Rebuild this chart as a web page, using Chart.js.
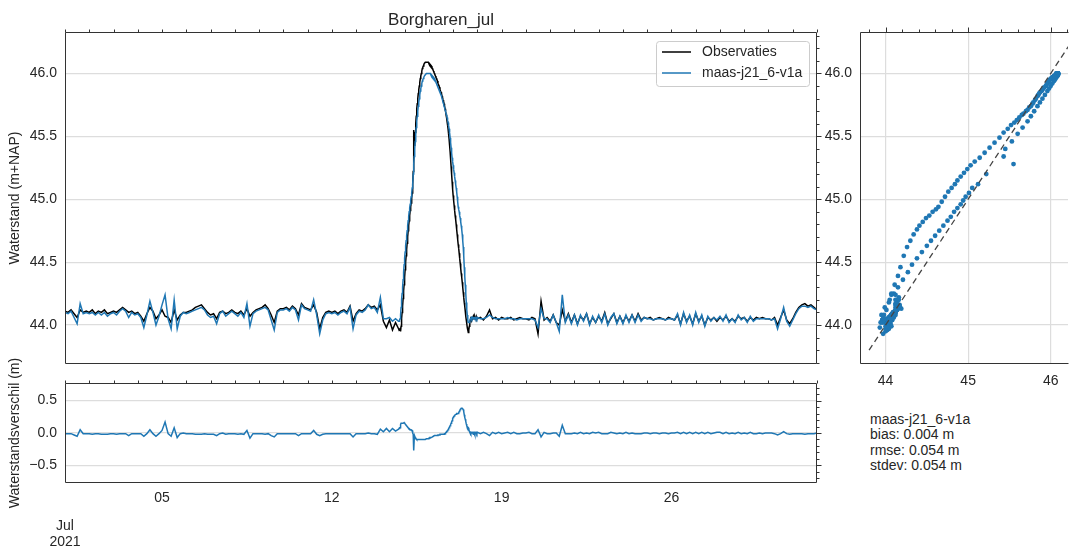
<!DOCTYPE html>
<html>
<head>
<meta charset="utf-8">
<script src="https://cdn.jsdelivr.net/npm/chart.js@4.4.1/dist/chart.umd.min.js"></script>
<style>
  html, body { margin: 0; padding: 0; background: #fff; overflow: hidden; }
  #wrap { position: relative; width: 1072px; height: 546px; overflow: hidden; }
  canvas { position: absolute; }
  #stats { position: absolute; left: 870px; top: 412px; font: 14px "Liberation Sans", Arial, sans-serif;
           color: #262626; line-height: 15.4px; white-space: pre; }
</style>
</head>
<body>
<div id="wrap">
  <canvas id="cMain" width="830" height="370" style="left:0;top:0"></canvas>
  <canvas id="cVerschil" width="830" height="216" style="left:0;top:330px"></canvas>
  <canvas id="cScatter" width="252" height="400" style="left:820px;top:0"></canvas>
  <div id="stats"></div>
</div>
<script>
var titel = 'Borgharen_jul';
var reeksNamen = ['Observaties', 'maas-j21_6-v1a'];
var statRegels = ['maas-j21_6-v1a', 'bias: 0.004 m', 'rmse: 0.054 m', 'stdev: 0.054 m'];
var dagTicks = [4, 11, 18, 25];          // dagen na 1 jul 00:00
var dagLabels = ['05', '12', '19', '26'];
var hoogteTicks = [44.0, 44.5, 45.0, 45.5, 46.0];
var verschilTicks = [-0.5, 0.0, 0.5];
var scatterTicks = [44, 45, 46];
var lijn11 = [43.8, 46.4];

// 1 jul 00:00 t/m 14 jul 15:00, elke 3 uur
var obsVoor = [
  44.11, 44.10, 44.12, 44.09, 44.06, 44.12, 44.10, 44.11,
  44.10, 44.12, 44.09, 44.11, 44.10, 44.12, 44.09, 44.10,
  44.11, 44.10, 44.12, 44.14, 44.12, 44.10, 44.11, 44.09,
  44.10, 44.07, 44.03, 44.09, 44.14, 44.11, 44.05, 44.08,
  44.12, 44.07, 44.06, 44.02, 44.12, 44.04, 44.08, 44.10,
  44.10, 44.11, 44.12, 44.14, 44.15, 44.16, 44.13, 44.10,
  44.08, 44.09, 44.05, 44.10, 44.11, 44.09, 44.10, 44.12,
  44.10, 44.09, 44.11, 44.08, 44.13, 44.07, 44.10, 44.12,
  44.13, 44.14, 44.16, 44.13, 44.08, 44.02, 44.11, 44.13,
  44.13, 44.14, 44.12, 44.15, 44.13, 44.08, 44.17, 44.14,
  44.13, 44.12, 44.16, 44.10, 43.97, 44.06, 44.10, 44.11,
  44.10, 44.11, 44.09, 44.11, 44.12, 44.10, 44.15, 44.03,
  44.09, 44.12, 44.11, 44.13, 44.16, 44.14, 44.15, 44.12,
  44.16, 44.03, 43.98, 44.04, 43.96, 44.02
];
var simVoor = [
  44.10, 44.09, 44.11, 44.06, 44.01, 44.17, 44.09, 44.10,
  44.09, 44.10, 44.08, 44.10, 44.08, 44.10, 44.07, 44.09,
  44.10, 44.08, 44.11, 44.13, 44.11, 44.06, 44.10, 44.08,
  44.09, 44.06, 43.98, 44.08, 44.19, 44.10, 44.00, 44.07,
  44.16, 44.24, 44.05, 43.97, 44.20, 43.97, 44.07, 44.10,
  44.09, 44.10, 44.11, 44.12, 44.13, 44.14, 44.12, 44.08,
  44.06, 44.07, 44.01, 44.09, 44.11, 44.07, 44.09, 44.11,
  44.09, 44.07, 44.10, 44.06, 44.17, 43.99, 44.09, 44.11,
  44.12, 44.13, 44.14, 44.12, 44.04, 43.96, 44.10, 44.12,
  44.12, 44.13, 44.11, 44.14, 44.12, 44.04, 44.16, 44.13,
  44.12, 44.11, 44.20, 44.08, 43.93, 44.04, 44.09, 44.10,
  44.09, 44.10, 44.08, 44.10, 44.11, 44.09, 44.14, 43.97,
  44.08, 44.11, 44.10, 44.12, 44.16, 44.13, 44.14, 44.10,
  44.22, 44.05, 44.05, 44.06, 44.03, 44.05
];
// 14 jul 18:00 t/m 17 jul 23:30, elk half uur (hoogwater)
var obsPiek = [
  43.97, 43.96, 43.96, 43.97, 43.95, 43.99, 44.05, 44.10, 44.15, 44.21, 44.27, 44.32,
  44.38, 44.44, 44.50, 44.55, 44.60, 44.65, 44.70, 44.75, 44.79, 44.83, 44.87, 44.91,
  44.94, 44.97, 45.01, 45.05, 45.12, 45.22, 45.55, 45.43, 45.45, 45.53, 45.60, 45.66,
  45.72, 45.76, 45.80, 45.84, 45.87, 45.90, 45.93, 45.96, 45.98, 46.00, 46.02, 46.04,
  46.05, 46.06, 46.07, 46.08, 46.08, 46.09, 46.09, 46.09, 46.09, 46.09, 46.09, 46.09,
  46.08, 46.08, 46.07, 46.07, 46.06, 46.06, 46.05, 46.04, 46.03, 46.02, 46.01, 46.00,
  45.99, 45.98, 45.97, 45.96, 45.95, 45.94, 45.92, 45.91, 45.90, 45.89, 45.87, 45.86,
  45.85, 45.84, 45.82, 45.81, 45.79, 45.78, 45.76, 45.74, 45.72, 45.70, 45.67, 45.65,
  45.62, 45.59, 45.56, 45.52, 45.48, 45.43, 45.38, 45.32, 45.26, 45.20, 45.14, 45.08,
  45.03, 44.99, 44.95, 44.91, 44.87, 44.84, 44.80, 44.76, 44.72, 44.68, 44.64, 44.61,
  44.57, 44.53, 44.49, 44.45, 44.41, 44.38, 44.34, 44.30, 44.26, 44.22, 44.18, 44.15,
  44.11, 44.07, 44.04, 44.01, 43.98, 43.96, 43.94, 43.96, 43.99, 44.02, 44.04, 44.06,
  44.06, 44.04, 44.05, 44.06, 44.07, 44.05, 44.05, 44.07, 44.06, 44.05, 44.05, 44.06
];
var simPiek = [
  44.03, 44.03, 44.04, 44.05, 44.08, 44.14, 44.20, 44.25, 44.30, 44.36, 44.42, 44.48,
  44.53, 44.58, 44.63, 44.67, 44.71, 44.75, 44.79, 44.83, 44.86, 44.90, 44.93, 44.96,
  44.99, 45.02, 45.05, 45.09, 45.12, 45.20, 45.28, 45.34, 45.40, 45.46, 45.52, 45.57,
  45.62, 45.66, 45.70, 45.74, 45.77, 45.80, 45.83, 45.86, 45.88, 45.90, 45.92, 45.94,
  45.95, 45.96, 45.97, 45.98, 45.98, 45.99, 45.99, 46.00, 46.00, 46.00, 46.00, 46.00,
  46.00, 46.00, 46.00, 46.00, 45.99, 45.99, 45.98, 45.98, 45.97, 45.97, 45.96, 45.96,
  45.95, 45.94, 45.93, 45.92, 45.91, 45.90, 45.89, 45.88, 45.87, 45.86, 45.85, 45.84,
  45.83, 45.82, 45.80, 45.79, 45.77, 45.76, 45.74, 45.73, 45.71, 45.70, 45.68, 45.67,
  45.65, 45.63, 45.61, 45.59, 45.56, 45.53, 45.49, 45.45, 45.41, 45.37, 45.33, 45.30,
  45.27, 45.24, 45.21, 45.18, 45.15, 45.12, 45.09, 45.06, 45.02, 44.98, 44.94, 44.92,
  44.90, 44.87, 44.85, 44.82, 44.79, 44.76, 44.72, 44.67, 44.62, 44.55, 44.46, 44.39,
  44.32, 44.25, 44.18, 44.12, 44.08, 44.04, 44.02, 44.02, 44.02, 44.03, 44.05, 44.05,
  44.06, 44.05, 44.06, 44.06, 44.05, 44.06, 44.06, 44.05, 44.05, 44.06, 44.06, 44.05
];
// 18 jul 00:00 t/m 1 aug 00:00, elke 3 uur
var obsNa = [
  44.05, 44.06, 44.04, 44.07, 44.12, 44.05, 44.06, 44.04,
  44.06, 44.05, 44.05, 44.06, 44.04, 44.05, 44.06, 44.05,
  44.05, 44.04, 44.06, 44.05, 43.93, 44.19, 44.04, 44.06,
  44.03, 44.08, 44.02, 44.00, 44.12, 44.03, 44.09, 44.02,
  44.08, 44.01, 44.07, 44.04, 44.09, 44.01, 44.06, 44.02,
  44.07, 44.03, 44.10, 44.01, 44.05, 44.09, 44.02, 44.07,
  44.02, 44.07, 44.03, 44.08, 44.03, 44.09, 44.04, 44.06,
  44.05, 44.06, 44.04, 44.05, 44.06, 44.05, 44.04, 44.06,
  44.05, 44.04, 44.08, 44.01, 44.09, 44.03, 44.07, 44.01,
  44.09, 44.03, 44.07, 44.00, 44.06, 44.04, 44.06, 44.03,
  44.06, 44.04, 44.07, 44.03, 44.05, 44.03, 44.07, 44.05,
  44.06, 44.03, 44.06, 44.04, 44.06, 44.05, 44.06, 44.05,
  44.05, 44.04, 44.06, 44.00, 44.06, 44.12, 44.04, 44.01,
  44.05, 44.10, 44.14, 44.16, 44.17, 44.15, 44.16, 44.14,
  44.12
];
var simNa = [
  44.06, 44.05, 44.05, 44.06, 44.08, 44.06, 44.05, 44.05,
  44.05, 44.05, 44.06, 44.05, 44.05, 44.04, 44.05, 44.05,
  44.05, 44.05, 44.05, 44.04, 43.98, 44.13, 44.05, 44.05,
  44.02, 44.08, 44.02, 43.95, 44.24, 44.02, 44.08, 44.01,
  44.08, 44.00, 44.08, 44.03, 44.09, 44.00, 44.07, 44.02,
  44.08, 44.02, 44.09, 44.00, 44.06, 44.09, 44.01, 44.07,
  44.01, 44.08, 44.02, 44.08, 44.02, 44.08, 44.03, 44.06,
  44.05, 44.05, 44.04, 44.05, 44.05, 44.05, 44.04, 44.05,
  44.05, 44.04, 44.09, 44.00, 44.10, 44.02, 44.08, 44.00,
  44.10, 44.02, 44.08, 43.99, 44.07, 44.03, 44.06, 44.04,
  44.07, 44.03, 44.08, 44.02, 44.05, 44.02, 44.08, 44.04,
  44.06, 44.02, 44.07, 44.03, 44.05, 44.05, 44.05, 44.05,
  44.05, 44.04, 44.05, 43.97, 44.05, 44.14, 44.03, 43.99,
  44.04, 44.09, 44.13, 44.15, 44.15, 44.14, 44.15, 44.13,
  44.12
];

// tijdas in dagen na 1 jul
var tijd = [], obs = [], sim = [];
obsVoor.forEach(function(v, i){ tijd.push(i * 3 / 24); obs.push(v); sim.push(simVoor[i]); });
obsPiek.forEach(function(v, i){ tijd.push((330 + i / 2) / 24); obs.push(v); sim.push(simPiek[i]); });
obsNa.forEach(function(v, i){ tijd.push((408 + i * 3) / 24); obs.push(v); sim.push(simNa[i]); });
var verschil = sim.map(function(v, i){ return +(v - obs[i]).toFixed(3); });

var FONT = '"Liberation Sans", Arial, sans-serif';
var TEKST = '#262626';
var GRID = '#dddddd';
var BLAUW = '#1f77b4';

document.getElementById('stats').textContent = statRegels.join('\n');

function reeks(van, tot, stap){
    var r = [];
    for (var v = van; v <= tot + 1e-9; v += stap) r.push(+v.toFixed(3));
    return r;
}
var dagen = reeks(0, 31, 1);

// matplotlib-achtige kaders met ticks naar buiten
var kader = {
    id: 'kader',
    afterDraw: function(chart, args, opts){
        var ctx = chart.ctx, a = chart.chartArea;
        var sx = chart.scales.x, sy = chart.scales.y;
        ctx.save();
        ctx.strokeStyle = '#333333';
        ctx.lineWidth = 1;
        ctx.beginPath();
        var L = Math.round(a.left) + 0.5, R = Math.round(a.right) - 0.5;
        var T = Math.round(a.top) + 0.5, B = Math.round(a.bottom) - 0.5;
        var extra = opts.geenRechts ? 1 : 0;
        ctx.moveTo(L, B); ctx.lineTo(L, T); ctx.lineTo(R + extra, T);
        if (!opts.geenRechts) { ctx.lineTo(R, B); }
        ctx.moveTo(L, B); ctx.lineTo(R + extra, B);
        (opts.bovenMinor || []).forEach(function(v){
            var x = Math.round(sx.getPixelForValue(v)) + 0.5;
            if (x < a.left - 1 || x > a.right + 1) return;
            ctx.moveTo(x, T); ctx.lineTo(x, T - 3);
        });
        (opts.bovenMajor || []).forEach(function(v){
            var x = Math.round(sx.getPixelForValue(v)) + 0.5;
            ctx.moveTo(x, T); ctx.lineTo(x, T - 5);
        });
        (opts.rechtsMinor || []).forEach(function(v){
            var y = Math.round(sy.getPixelForValue(v)) + 0.5;
            if (y < a.top || y > a.bottom) return;
            ctx.moveTo(R, y); ctx.lineTo(R + 3, y);
        });
        (opts.rechtsMajor || []).forEach(function(v){
            var y = Math.round(sy.getPixelForValue(v)) + 0.5;
            ctx.moveTo(R, y); ctx.lineTo(R + 5, y);
        });
        ctx.stroke();
        ctx.restore();
    }
};

// teksten: titel, astitels, legenda, maand-label
var teksten = {
    id: 'teksten',
    afterDraw: function(chart, args, opts){
        var ctx = chart.ctx, a = chart.chartArea;
        ctx.save();
        ctx.fillStyle = TEKST;
        ctx.textBaseline = 'middle';
        if (opts.titel) {
            ctx.font = '17px ' + FONT;
            ctx.textAlign = 'center';
            ctx.fillText(opts.titel, (a.left + a.right) / 2, 20);
        }
        if (opts.yTitel) {
            ctx.save();
            ctx.font = '14px ' + FONT;
            ctx.textAlign = 'center';
            ctx.translate(15, (a.top + a.bottom) / 2);
            ctx.rotate(-Math.PI / 2);
            ctx.fillText(opts.yTitel, 0, 0);
            ctx.restore();
        }
        if (opts.maand) {
            ctx.font = '14px ' + FONT;
            ctx.textAlign = 'center';
            var x0 = chart.scales.x.getPixelForValue(0);
            ctx.fillText(opts.maand[0], x0, a.bottom + 43);
            ctx.fillText(opts.maand[1], x0, a.bottom + 59);
        }
        if (opts.legenda) {
            var bx = 656, by = 41, bw = 153, bh = 45;
            ctx.fillStyle = 'rgba(255,255,255,0.85)';
            ctx.strokeStyle = '#cccccc';
            ctx.lineWidth = 1;
            ctx.beginPath();
            ctx.roundRect(bx + 0.5, by + 0.5, bw, bh, 3);
            ctx.fill(); ctx.stroke();
            ctx.font = '14px ' + FONT;
            ctx.textAlign = 'left';
            chart.data.datasets.forEach(function(ds, i){
                var y = by + 11 + i * 21;
                ctx.strokeStyle = ds.borderColor;
                ctx.lineWidth = 1.5;
                ctx.beginPath(); ctx.moveTo(662, y); ctx.lineTo(691, y); ctx.stroke();
                ctx.fillStyle = TEKST;
                ctx.fillText(ds.label, 702, y);
            });
        }
        ctx.restore();
    }
};

function vasteTicks(lijst){
    return function(scale){ scale.ticks = lijst.map(function(v){ return { value: v }; }); };
}
function yBreedte(w){
    return function(s){ s.width = w; s.paddingTop = 0; s.paddingBottom = 0; };
}
function xHoogte(h){
    return function(s){ s.height = h; s.paddingLeft = 0; s.paddingRight = 0; };
}
var tickFont = { family: FONT, size: 14 };

Chart.defaults.font.family = FONT;
Chart.defaults.color = TEKST;

// hoofdgrafiek
new Chart(document.getElementById('cMain'), {
    type: 'line',
    data: {
        datasets: [
            { label: reeksNamen[0], data: tijd.map(function(t, i){ return { x: t, y: obs[i] }; }),
              borderColor: '#000000', borderWidth: 1.5, pointRadius: 0, order: 2 },
            { label: reeksNamen[1], data: tijd.map(function(t, i){ return { x: t, y: sim[i] }; }),
              borderColor: BLAUW, borderWidth: 1.5, pointRadius: 0, order: 1 }
        ]
    },
    options: {
        responsive: false, animation: false, devicePixelRatio: 1,
        layout: { padding: { top: 32, right: 13, bottom: 6, left: 0 } },
        plugins: {
            legend: { display: false }, tooltip: { enabled: false },
            kader: { bovenMinor: dagen, rechtsMinor: reeks(43.7, 46.3, 0.1), rechtsMajor: hoogteTicks },
            teksten: { titel: titel, yTitel: 'Waterstand (m+NAP)', legenda: true }
        },
        scales: {
            x: { type: 'linear', min: 0, max: 31, display: false },
            y: {
                min: 43.69, max: 46.33,
                afterBuildTicks: vasteTicks(hoogteTicks),
                afterFit: yBreedte(65),
                grid: { color: GRID, lineWidth: 1.2, drawTicks: false },
                border: { display: false },
                ticks: { padding: 8, font: tickFont, color: TEKST,
                         callback: function(v){ return v.toFixed(1); } }
            }
        }
    },
    plugins: [kader, teksten]
});

// verschilgrafiek
new Chart(document.getElementById('cVerschil'), {
    type: 'line',
    data: {
        datasets: [
            { label: reeksNamen[1], data: tijd.map(function(t, i){ return { x: t, y: verschil[i] }; }),
              borderColor: BLAUW, borderWidth: 1.5, pointRadius: 0 }
        ]
    },
    options: {
        responsive: false, animation: false, devicePixelRatio: 1,
        layout: { padding: { top: 53, right: 13, bottom: 0, left: 0 } },
        plugins: {
            legend: { display: false }, tooltip: { enabled: false },
            kader: { bovenMinor: dagen, rechtsMinor: reeks(-0.7, 0.7, 0.1), rechtsMajor: verschilTicks },
            teksten: { yTitel: 'Waterstandsverschil (m)', maand: ['Jul', '2021'] }
        },
        scales: {
            x: {
                type: 'linear', min: 0, max: 31,
                afterBuildTicks: vasteTicks(dagTicks),
                afterFit: xHoogte(63),
                grid: { display: false, drawTicks: false }, border: { display: false },
                ticks: { padding: 7, font: tickFont, color: TEKST, maxRotation: 0,
                         callback: function(v){ return dagLabels[dagTicks.indexOf(v)]; } }
            },
            y: {
                min: -0.77, max: 0.77,
                afterBuildTicks: vasteTicks(verschilTicks),
                afterFit: yBreedte(65),
                grid: { color: GRID, lineWidth: 1.2, drawTicks: false },
                border: { display: false },
                ticks: { padding: 8, font: tickFont, color: TEKST,
                         callback: function(v){ return (v < 0 ? '\u2212' : '') + Math.abs(v).toFixed(1); } }
            }
        }
    },
    plugins: [kader, teksten]
});

// scatter observatie vs model
new Chart(document.getElementById('cScatter'), {
    type: 'scatter',
    data: {
        datasets: [
            { type: 'line', data: lijn11.map(function(v){ return { x: v, y: v }; }),
              borderColor: '#444444', borderWidth: 1.3, borderDash: [6, 4], pointRadius: 0, order: 0 },
            { data: obs.map(function(v, i){ return { x: v, y: sim[i] }; }),
              backgroundColor: BLAUW, borderWidth: 0, pointRadius: 2.4, order: 1 }
        ]
    },
    options: {
        responsive: false, animation: false, devicePixelRatio: 1,
        layout: { padding: { top: 32, right: 0, bottom: 0, left: 0 } },
        plugins: {
            legend: { display: false }, tooltip: { enabled: false },
            kader: { geenRechts: true, bovenMinor: reeks(43.8, 46.2, 0.2), bovenMajor: scatterTicks }
        },
        scales: {
            x: {
                type: 'linear', min: 43.69, max: 46.21,
                afterBuildTicks: vasteTicks(scatterTicks),
                afterFit: xHoogte(36),
                grid: { color: GRID, lineWidth: 1.2, drawTicks: false },
                border: { display: false },
                ticks: { padding: 9, font: tickFont, color: TEKST, maxRotation: 0,
                         callback: function(v){ return String(v); } }
            },
            y: {
                min: 43.69, max: 46.33,
                afterBuildTicks: vasteTicks(hoogteTicks),
                afterFit: yBreedte(40),
                grid: { color: GRID, lineWidth: 1.2, drawTicks: false },
                border: { display: false },
                ticks: { padding: 8, font: tickFont, color: TEKST,
                         callback: function(v){ return v.toFixed(1); } }
            }
        }
    },
    plugins: [kader]
});
</script>
</body>
</html>
